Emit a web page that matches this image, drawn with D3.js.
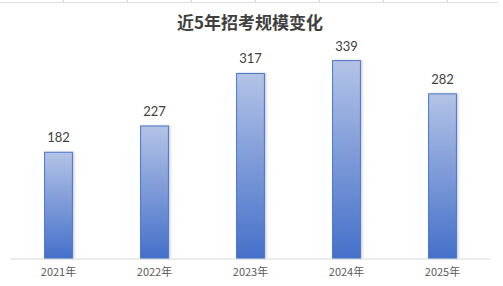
<!DOCTYPE html>
<html>
<head>
<meta charset="utf-8">
<script src="https://cdn.jsdelivr.net/npm/d3@7"></script>
<style>
  body { margin: 0; background: #fff; }
  svg { display: block; }
</style>
</head>
<body>
<div id="chart"></div>
<script>
  // Chart data
  const years = ["2021年", "2022年", "2023年", "2024年", "2025年"];
  const counts = [182, 227, 317, 339, 282];
  const chartTitle = "近5年招考规模变化";

  const width = 503, height = 286;
  const margin = { top: 25, right: 12.5, bottom: 27.5, left: 10.5 };

  const svg = d3.select("#chart").append("svg")
    .attr("width", width)
    .attr("height", height);

  // spreadsheet grid peeking out at the top
  svg.append("line")
    .attr("x1", 0).attr("x2", 498)
    .attr("y1", 2.5).attr("y2", 2.5)
    .attr("stroke", "#e0e0e0");
  svg.selectAll(".cell")
    .data(d3.range(1, 8))
    .join("line")
    .attr("class", "cell")
    .attr("x1", d => 64 * d - 0.5).attr("x2", d => 64 * d - 0.5)
    .attr("y1", 0).attr("y2", 2.5)
    .attr("stroke", "#d4d4d4");

  const defs = svg.append("defs");
  const grad = defs.append("linearGradient")
    .attr("id", "barGrad")
    .attr("x1", 0).attr("y1", 0).attr("x2", 0).attr("y2", 1);
  grad.append("stop").attr("offset", "0%").attr("stop-color", "#b3c3e6");
  grad.append("stop").attr("offset", "100%").attr("stop-color", "#4570c9");

  const shadow = defs.append("filter").attr("id", "shadow")
    .attr("x", "-30%").attr("y", "-10%").attr("width", "160%").attr("height", "120%");
  shadow.append("feDropShadow")
    .attr("dx", 1.5).attr("dy", 0).attr("stdDeviation", 1.2)
    .attr("flood-color", "#000").attr("flood-opacity", 0.18);

  const x = d3.scaleBand()
    .domain(years)
    .range([margin.left, width - margin.right])
    .paddingInner(0.71)
    .paddingOuter(0.355);

  const y = d3.scaleLinear()
    .domain([0, 400])
    .range([height - margin.bottom, margin.top]);

  // title
  svg.append("text")
    .attr("x", 250)
    .attr("y", 29)
    .attr("text-anchor", "middle")
    .attr("font-family", "'Noto Sans CJK SC', sans-serif")
    .attr("font-weight", "bold")
    .attr("font-size", "17px")
    .attr("fill", "#404040")
    .text(chartTitle);

  // bars
  svg.append("g")
    .selectAll("rect")
    .data(counts)
    .join("rect")
    .attr("x", (d, i) => x(years[i]))
    .attr("y", d => y(d))
    .attr("width", x.bandwidth())
    .attr("height", d => y(0) - y(d))
    .attr("fill", "url(#barGrad)")
    .attr("stroke", "#4a75cb")
    .attr("stroke-width", 1)
    .attr("filter", "url(#shadow)");

  // value labels
  svg.append("g")
    .selectAll("text")
    .data(counts)
    .join("text")
    .attr("x", (d, i) => x(years[i]) + x.bandwidth() / 2)
    .attr("y", d => y(d) - 10)
    .attr("text-anchor", "middle")
    .attr("font-family", "Lato, 'Noto Sans', sans-serif")
    .attr("font-size", "13px")
    .attr("fill", "#404040")
    .text(d => d);

  // x axis
  const xAxis = svg.append("g")
    .attr("transform", `translate(0,${y(0) + 0.5})`)
    .call(d3.axisBottom(x).tickSize(0).tickPadding(9));
  xAxis.select(".domain").attr("stroke", "#d9d9d9").attr("d", `M${margin.left},0H${width - margin.right}`);
  xAxis.selectAll("text")
    .attr("font-family", "'Noto Sans CJK SC', sans-serif")
    .attr("font-size", "11px")
    .attr("fill", "#595959");
</script>
</body>
</html>
